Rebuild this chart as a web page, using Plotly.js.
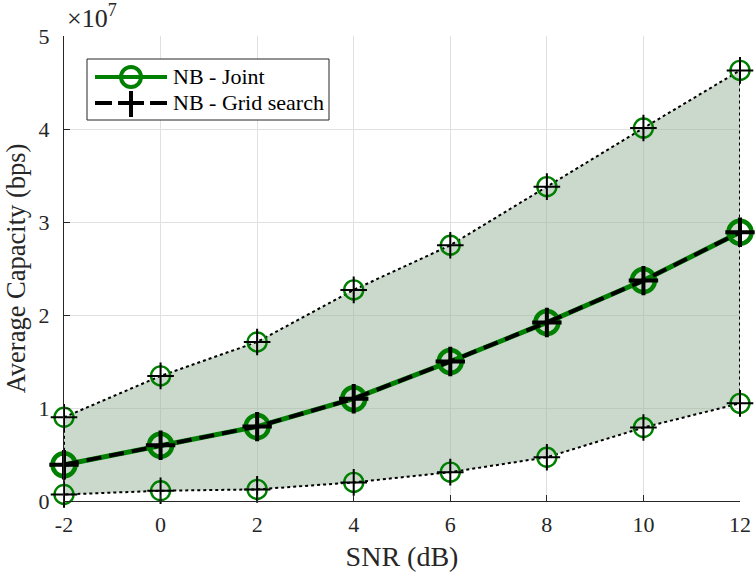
<!DOCTYPE html>
<html>
<head>
<meta charset="utf-8">
<script src="https://cdn.plot.ly/plotly-3.0.1.min.js"></script>
<style>html,body{margin:0;padding:0;background:#fff;}#chart{width:756px;height:574px;}</style>
</head>
<body>
<div id="chart"></div>
<script>
// SNR sweep (dB)
const snr = [-2, 0, 2, 4, 6, 8, 10, 12];
const xTickText = ['-2', '0', '2', '4', '6', '8', '10', '12'];
// Average capacity (bps): mean curve and its upper / lower envelope
const capMean  = [0.39e7, 0.60e7, 0.80e7, 1.10e7, 1.50e7, 1.92e7, 2.37e7, 2.89e7];
const capUpper = [0.90e7, 1.345e7, 1.71e7, 2.27e7, 2.75e7, 3.38e7, 4.01e7, 4.63e7];
const capLower = [0.07e7, 0.11e7, 0.125e7, 0.20e7, 0.31e7, 0.47e7, 0.79e7, 1.05e7];
const yTickVals = [0, 1e7, 2e7, 3e7, 4e7, 5e7];
const yTickText = ['0', '1', '2', '3', '4', '5'];
const seriesNames = ['NB - Joint', 'NB - Grid search'];

const green = 'rgb(0,128,0)';
const ink = '#262626';
const font = 'Liberation Serif, Times New Roman, serif';

// plot-area geometry in pixels (used for the hand-drawn legend)
const W = 756, H = 574;
const M = {l: 64, r: 16, t: 36, b: 73};
const PW = W - M.l - M.r, PH = H - M.t - M.b;
const px = x => (x - M.l) / PW;
const py = y => (H - M.b - y) / PH;

// closed band: upper edge left->right, lower edge right->left
const bandX = snr.concat(snr.slice().reverse(), [snr[0]]);
const bandY = capUpper.concat(capLower.slice().reverse(), [capUpper[0]]);

const boundCircle = {symbol: 'circle-open', size: 19, color: green, line: {width: 2.4, color: green}};
const boundCross = {symbol: 'cross-thin-open', size: 19, color: 'black', line: {width: 2, color: 'black'}};

const traces = [
  {x: bandX, y: bandY, mode: 'lines', fill: 'toself', cliponaxis: false,
   fillcolor: 'rgba(150,180,152,0.5)',
   line: {color: 'black', width: 2, dash: 'dot'}, showlegend: false},
  {x: snr, y: capUpper, mode: 'markers', cliponaxis: false, showlegend: false, marker: boundCircle},
  {x: snr, y: capUpper, mode: 'markers', cliponaxis: false, showlegend: false, marker: boundCross},
  {x: snr, y: capLower, mode: 'markers', cliponaxis: false, showlegend: false, marker: boundCircle},
  {x: snr, y: capLower, mode: 'markers', cliponaxis: false, showlegend: false, marker: boundCross},
  {x: snr, y: capMean, mode: 'lines+markers', name: seriesNames[0], cliponaxis: false, showlegend: false,
   line: {color: green, width: 5},
   marker: {symbol: 'circle-open', size: 23, color: green, line: {width: 4.5, color: green}}},
  {x: snr, y: capMean, mode: 'lines+markers', name: seriesNames[1], cliponaxis: false, showlegend: false,
   line: {color: 'black', width: 4, dash: '15px,8px'},
   marker: {symbol: 'cross-thin-open', size: 21, color: 'black', line: {width: 4, color: 'black'}}}
];

// legend box drawn with paper-referenced shapes
const L = {x0: 87, x1: 329, y0: 59, y1: 120, r1: 77, r2: 103, s0: 95, s1: 167, mid: 131, tx: 171};
const shapes = [
  {type: 'rect', xref: 'paper', yref: 'paper', x0: px(L.x0), x1: px(L.x1), y0: py(L.y1), y1: py(L.y0),
   fillcolor: 'white', line: {color: ink, width: 1}},
  {type: 'line', xref: 'paper', yref: 'paper', x0: px(L.s0), x1: px(L.s1), y0: py(L.r1), y1: py(L.r1),
   line: {color: green, width: 4}},
  {type: 'circle', xref: 'paper', yref: 'paper', x0: px(L.mid - 10), x1: px(L.mid + 10),
   y0: py(L.r1 + 10), y1: py(L.r1 - 10), line: {color: green, width: 4}},
  {type: 'line', xref: 'paper', yref: 'paper', x0: px(L.s0), x1: px(L.s0 + 17), y0: py(L.r2), y1: py(L.r2),
   line: {color: 'black', width: 4}},
  {type: 'line', xref: 'paper', yref: 'paper', x0: px(L.mid - 13), x1: px(L.mid + 13), y0: py(L.r2), y1: py(L.r2),
   line: {color: 'black', width: 4}},
  {type: 'line', xref: 'paper', yref: 'paper', x0: px(L.mid), x1: px(L.mid), y0: py(L.r2 + 14), y1: py(L.r2 - 12),
   line: {color: 'black', width: 4}},
  {type: 'line', xref: 'paper', yref: 'paper', x0: px(L.s1 - 17), x1: px(L.s1), y0: py(L.r2), y1: py(L.r2),
   line: {color: 'black', width: 4}}
];

const annotations = [
  {xref: 'paper', yref: 'paper', x: 0, y: 1, xanchor: 'left', yanchor: 'bottom',
   xshift: 1, yshift: 1, showarrow: false,
   text: '×10<sup>7</sup>', font: {family: font, size: 26, color: ink}},
  {xref: 'paper', yref: 'paper', x: px(L.tx), y: py(L.r1), xanchor: 'left', yanchor: 'middle',
   showarrow: false, text: seriesNames[0], font: {family: font, size: 22, color: 'black'}},
  {xref: 'paper', yref: 'paper', x: px(L.tx), y: py(L.r2), xanchor: 'left', yanchor: 'middle',
   showarrow: false, text: seriesNames[1], font: {family: font, size: 22, color: 'black'}}
];

const layout = {
  width: W, height: H,
  margin: M,
  paper_bgcolor: 'white', plot_bgcolor: 'white',
  font: {family: font, size: 22, color: ink},
  showlegend: false,
  xaxis: {
    range: [-2, 12], tickvals: snr, ticktext: xTickText, ticks: 'inside', ticklen: 6,
    tickcolor: ink, showline: true, linecolor: ink, linewidth: 1.2,
    showgrid: true, gridcolor: 'rgb(224,224,224)', gridwidth: 1, zeroline: false,
    tickfont: {size: 22}, ticklabelstandoff: 3,
    title: {text: 'SNR (dB)', font: {size: 28}, standoff: 10}
  },
  yaxis: {
    range: [0, 5e7], tickvals: yTickVals, ticktext: yTickText, ticks: 'inside', ticklen: 6,
    tickcolor: ink, showline: true, linecolor: ink, linewidth: 1.2,
    showgrid: true, gridcolor: 'rgb(224,224,224)', gridwidth: 1, zeroline: false,
    tickfont: {size: 22}, ticklabelstandoff: 9,
    title: {text: 'Average Capacity (bps)', font: {size: 26.5}, standoff: 5}
  },
  shapes: shapes,
  annotations: annotations
};

Plotly.newPlot('chart', traces, layout, {displayModeBar: false, staticPlot: true});
</script>
</body>
</html>
